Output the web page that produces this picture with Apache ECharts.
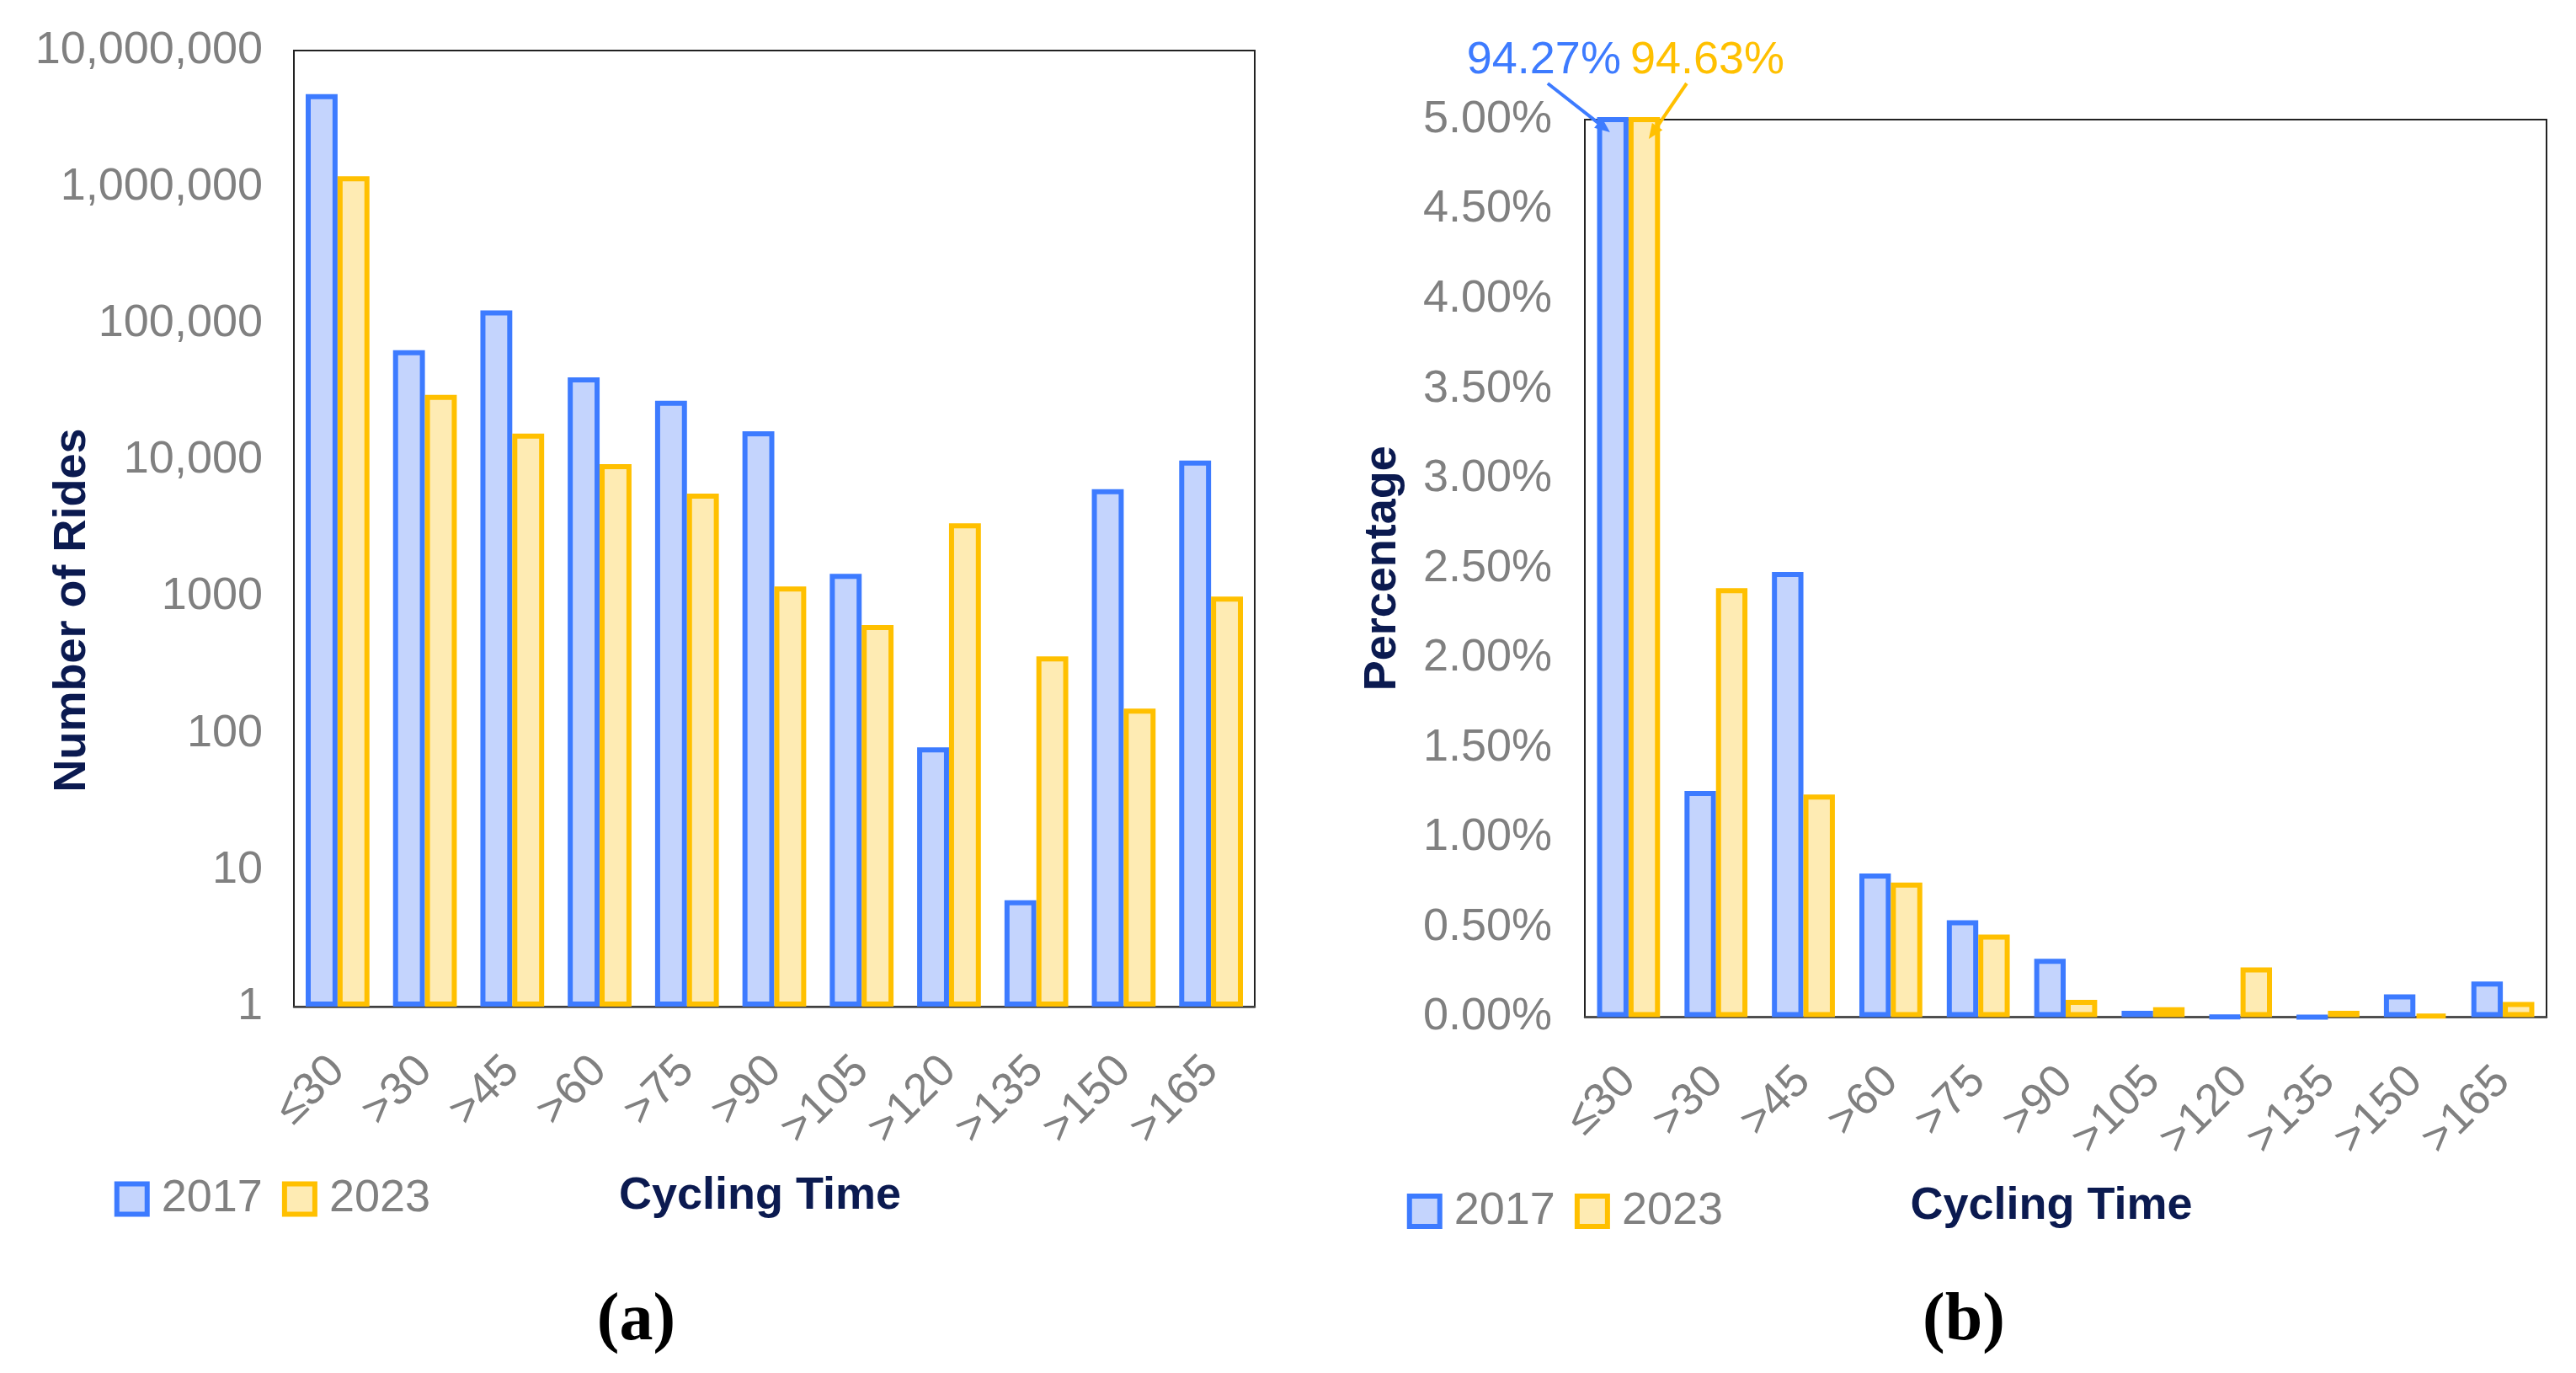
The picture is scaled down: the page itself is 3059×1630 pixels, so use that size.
<!DOCTYPE html>
<html>
<head>
<meta charset="utf-8">
<script src="https://cdn.jsdelivr.net/npm/echarts@6/dist/echarts.min.js"></script>
<style>
html,body{margin:0;padding:0;background:#fff;}
#main{width:3059px;height:1630px;}
</style>
</head>
<body>
<div id="main"></div>
<script>
// ---- data ----
const categories = ['≤30', '>30', '>45', '>60', '>75', '>90', '>105', '>120', '>135', '>150', '>165'];
const seriesNames = ['2017', '2023'];
const rides2017 = [4800000, 64000, 125000, 40500, 27300, 16300, 1475, 79, 6, 6150, 9940];
const rides2023 = [1200000, 30100, 15700, 9370, 5710, 1190, 622, 3460, 366, 152, 1005];
const pct2017 = [94.27, 1.26, 2.48, 0.80, 0.54, 0.325, 0.035, 0.002, 0.0001, 0.127, 0.198];
const pct2023 = [94.63, 2.39, 1.24, 0.75, 0.46, 0.096, 0.055, 0.277, 0.035, 0.012, 0.085];
const logTickLabels = ['1', '10', '100', '1000', '10,000', '100,000', '1,000,000', '10,000,000'];
const pctAnnotations = ['94.27%', '94.63%'];

// ---- styles ----
const FONT = '"Liberation Sans", Arial, sans-serif';
const BLUE = '#3d7bff', BLUE_FILL = '#c4d4fd';
const GOLD = '#ffc000', GOLD_FILL = '#feebb3';
const GREY = '#808080', NAVY = '#0b1a50';
const BW = 6;

const chart = echarts.init(document.getElementById('main'), null, {renderer: 'canvas'});

function barSeries(name, xi, data, gap) {
  const isA = name === '2017';
  return {
    type: 'bar', name: name, xAxisIndex: xi, yAxisIndex: xi, data: data,
    barGap: '0%', barCategoryGap: gap,
    itemStyle: {color: isA ? BLUE_FILL : GOLD_FILL, borderColor: isA ? BLUE : GOLD, borderWidth: BW},
    emphasis: {disabled: true}, animation: false
  };
}

function legendCfg(left, top) {
  return {
    left: left, top: top, orient: 'horizontal', itemWidth: 36, itemHeight: 36, itemGap: 23,
    icon: 'rect', selectedMode: false,
    textStyle: {fontFamily: FONT, fontSize: 54, color: GREY, lineHeight: 54, padding: [0, 0, 0, 12]},
    data: [
      {name: seriesNames[0], itemStyle: {color: BLUE_FILL, borderColor: BLUE, borderWidth: BW}},
      {name: seriesNames[1], itemStyle: {color: GOLD_FILL, borderColor: GOLD, borderWidth: BW}}
    ]
  };
}

function xAxisCfg(gi) {
  return {
    type: 'category', gridIndex: gi, data: categories,
    axisTick: {show: false},
    axisLine: {show: true, lineStyle: {color: '#444', width: 2.5}},
    axisLabel: {interval: 0, rotate: 45, margin: 68, fontFamily: FONT, fontSize: 54, color: GREY},
    name: 'Cycling Time', nameLocation: 'middle', nameGap: 198,
    nameTextStyle: {fontFamily: FONT, fontSize: 54, fontWeight: 'bold', color: NAVY, lineHeight: 54, padding: [0, 34, 0, 0]}
  };
}

const option = {
  backgroundColor: '#fff',
  animation: false,
  grid: [
    {left: 349, top: 60, width: 1141, height: 1135, show: true, borderColor: '#222', borderWidth: 2,
     containLabel: false, outerBoundsMode: 'none'},
    {left: 1882, top: 142, width: 1142, height: 1065.5, show: true, borderColor: '#222', borderWidth: 2,
     containLabel: false, outerBoundsMode: 'none'}
  ],
  legend: [legendCfg(130.75, 1391.5), legendCfg(1665.75, 1406)],
  xAxis: [xAxisCfg(0), xAxisCfg(1)],
  yAxis: [
    {
      type: 'log', gridIndex: 0, logBase: 10, min: 1, max: 10000000, splitNumber: 7,
      axisLine: {show: false}, axisTick: {show: false}, splitLine: {show: false},
      axisLabel: {margin: 37, fontFamily: FONT, fontSize: 54, color: GREY,
        formatter: function (v) { return logTickLabels[Math.round(Math.log10(v))]; }}
    },
    {
      type: 'value', gridIndex: 1, min: 0, max: 5, interval: 0.5,
      axisLine: {show: false}, axisTick: {show: false}, splitLine: {show: false},
      axisLabel: {margin: 39, fontFamily: FONT, fontSize: 54, color: GREY,
        formatter: function (v) { return v.toFixed(2) + '%'; }},
      name: 'Percentage', nameLocation: 'middle', nameGap: 213,
      nameTextStyle: {fontFamily: FONT, fontSize: 54, fontWeight: 'bold', color: NAVY}
    }
  ],
  series: [
    barSeries('2017', 0, rides2017, '27%'),
    barSeries('2023', 0, rides2023, '27%'),
    barSeries('2017', 1, pct2017, '28%'),
    barSeries('2023', 1, pct2023, '28%')
  ]
};
chart.setOption(option);

// ---- annotations anchored to the first category of the percentage chart ----
const cx = chart.convertToPixel({xAxisIndex: 1}, categories[0]);
const topY = chart.convertToPixel({yAxisIndex: 1}, 5);

function arrow(x1, y1, x2, y2, color) {
  const ang = Math.atan2(y2 - y1, x2 - x1);
  const L = 18, W = 7.5;
  const bx = x2 - L * Math.cos(ang), by = y2 - L * Math.sin(ang);
  const px = -Math.sin(ang) * W, py = Math.cos(ang) * W;
  return [
    {type: 'line', silent: true, z: 100, shape: {x1: x1, y1: y1, x2: bx, y2: by}, style: {stroke: color, lineWidth: 4}},
    {type: 'polygon', silent: true, z: 100, shape: {points: [[x2, y2], [bx + px, by + py], [bx - px, by - py]]}, style: {fill: color}}
  ];
}

const graphics = [
  {type: 'text', silent: true, z: 100, x: 86, y: 724.5, rotation: Math.PI / 2,
   style: {text: 'Number of Rides', fill: NAVY, font: 'bold 54px ' + FONT, textAlign: 'center', textVerticalAlign: 'middle'}},
  {type: 'text', silent: true, z: 100, x: cx - 9, y: topY - 70, style: {text: pctAnnotations[0], fill: BLUE, font: '54px ' + FONT, textAlign: 'right', textVerticalAlign: 'middle'}},
  {type: 'text', silent: true, z: 100, x: cx + 2, y: topY - 70, style: {text: pctAnnotations[1], fill: GOLD, font: '54px ' + FONT, textAlign: 'left', textVerticalAlign: 'middle'}},
  {type: 'text', silent: true, z: 100, x: 755.5, y: 1569, style: {text: '(a)', fill: '#000', font: 'bold 80px "Liberation Serif", serif', textAlign: 'center', textVerticalAlign: 'middle'}},
  {type: 'text', silent: true, z: 100, x: 2332, y: 1569, style: {text: '(b)', fill: '#000', font: 'bold 80px "Liberation Serif", serif', textAlign: 'center', textVerticalAlign: 'middle'}}
].concat(
  arrow(cx - 96, topY - 43, cx - 22, topY + 15, BLUE),
  arrow(cx + 69, topY - 43, cx + 24, topY + 23, GOLD)
);
chart.setOption({graphic: graphics});
</script>
</body>
</html>
